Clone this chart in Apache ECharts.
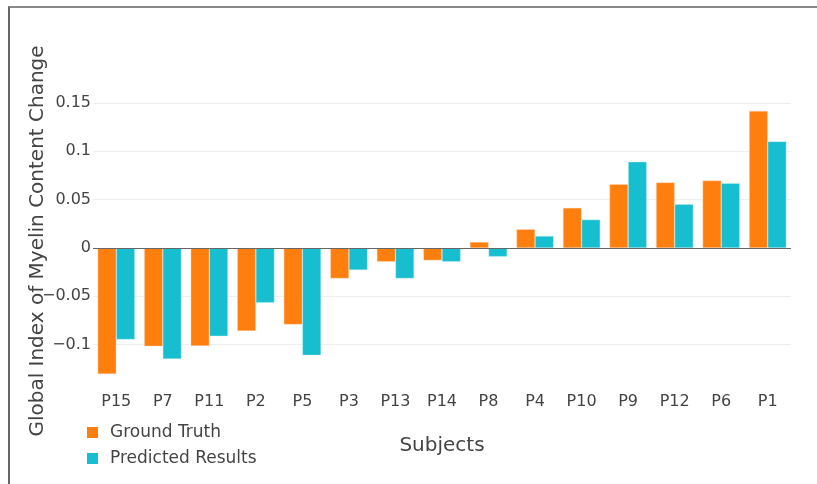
<!DOCTYPE html>
<html>
	<head>
		<meta charset="UTF-8">
		<title>Myelin Content Change</title>
		<style type="text/css">
			html,body{
				margin: 0;
				padding: 0;
				width: 100%;
				height: 100%;
				background: #fff;
			}
			#frame{
				position: absolute;
				left: 8px;
				top: 6px;
				right: 0;
				bottom: 0;
				border-top: 2px solid #888;
				border-left: 2px solid #666;
			}
			#main{
				position: absolute;
				left: 0;
				top: 0;
				width: 817px;
				height: 484px;
			}
		</style>
	</head>
	<body>
		<div id="frame"></div>
		<div id="main"></div>
		<script src="https://cdn.jsdelivr.net/npm/echarts@6/dist/echarts.min.js"></script>
		<script>
			var subjects = ['P15','P7','P11','P2','P5','P3','P13','P14','P8','P4','P10','P9','P12','P6','P1'];
			var groundTruth = [-0.1304,-0.1017,-0.1013,-0.0858,-0.0792,-0.0315,-0.0142,-0.0128,0.0062,0.0194,0.0415,0.066,0.0678,0.0698,0.1418];
			var predicted = [-0.0947,-0.1148,-0.0913,-0.0567,-0.111,-0.0228,-0.0315,-0.0142,-0.009,0.0124,0.0294,0.0892,0.0453,0.0671,0.1103];
			var seriesNames = ['Ground Truth','Predicted Results'];

			var fontName = '"DejaVu Sans", Verdana, sans-serif';
			var textColor = '#444';

			var myChart = echarts.init(document.getElementById('main'));
			myChart.setOption({
				backgroundColor: 'transparent',
				animation: false,
				textStyle: { fontFamily: fontName },
				grid: {
					left: 93,
					right: 26,
					top: 103,
					bottom: 91
				},
				legend: {
					orient: 'vertical',
					left: 87,
					top: 424,
					padding: 0,
					icon: 'rect',
					itemWidth: 11,
					itemHeight: 11,
					itemGap: 9,
					itemStyle: { borderWidth: 0 },
					textStyle: {
						fontFamily: fontName,
						fontSize: 17,
						lineHeight: 17,
						color: textColor,
						padding: [0,0,0,7]
					},
					data: seriesNames
				},
				graphic: [{
					type: 'text',
					x: 38,
					y: 241,
					rotation: Math.PI / 2,
					style: {
						text: 'Global Index of Myelin Content Change',
						font: '20px ' + fontName,
						fill: textColor,
						align: 'center',
						verticalAlign: 'middle'
					}
				}],
				xAxis: {
					type: 'category',
					data: subjects,
					name: 'Subjects',
					nameLocation: 'middle',
					nameGap: 43,
					nameTextStyle: { fontSize: 20, color: textColor, fontFamily: fontName },
					axisLine: { show: false, onZero: false },
					axisTick: { show: false },
					axisLabel: { fontSize: 16, color: textColor, margin: 1, fontFamily: fontName }
				},
				yAxis: {
					type: 'value',
					min: -0.15,
					max: 0.15,
					interval: 0.05,
					axisLine: { show: false },
					axisTick: { show: false },
					axisLabel: {
						fontSize: 16,
						color: textColor,
						margin: 2,
						fontFamily: fontName,
						showMinLabel: false,
						formatter: function (v) {
							var r = Math.round(v * 100) / 100;
							if (r === 0) return '0';
							return (r < 0 ? '\u2212' : '') + String(Math.abs(r));
						}
					},
					splitLine: { showMinLine: false, lineStyle: { color: '#eeeeee', width: 1 } }
				},
				series: [{
					name: seriesNames[0],
					type: 'bar',
					data: groundTruth,
					barGap: '0%',
					barCategoryGap: '20%',
					itemStyle: { color: '#ff7f0e', borderColor: 'rgba(255,220,190,0.8)', borderWidth: 0.5 },
					markLine: {
						silent: true,
						symbol: 'none',
						label: { show: false },
						lineStyle: { color: '#666', width: 1, type: 'solid' },
						data: [{ yAxis: 0 }]
					}
				}, {
					name: seriesNames[1],
					type: 'bar',
					data: predicted,
					barGap: '0%',
					barCategoryGap: '20%',
					itemStyle: { color: '#17becf', borderColor: 'rgba(200,240,245,0.8)', borderWidth: 0.5 }
				}]
			});
		</script>
	</body>
</html>
